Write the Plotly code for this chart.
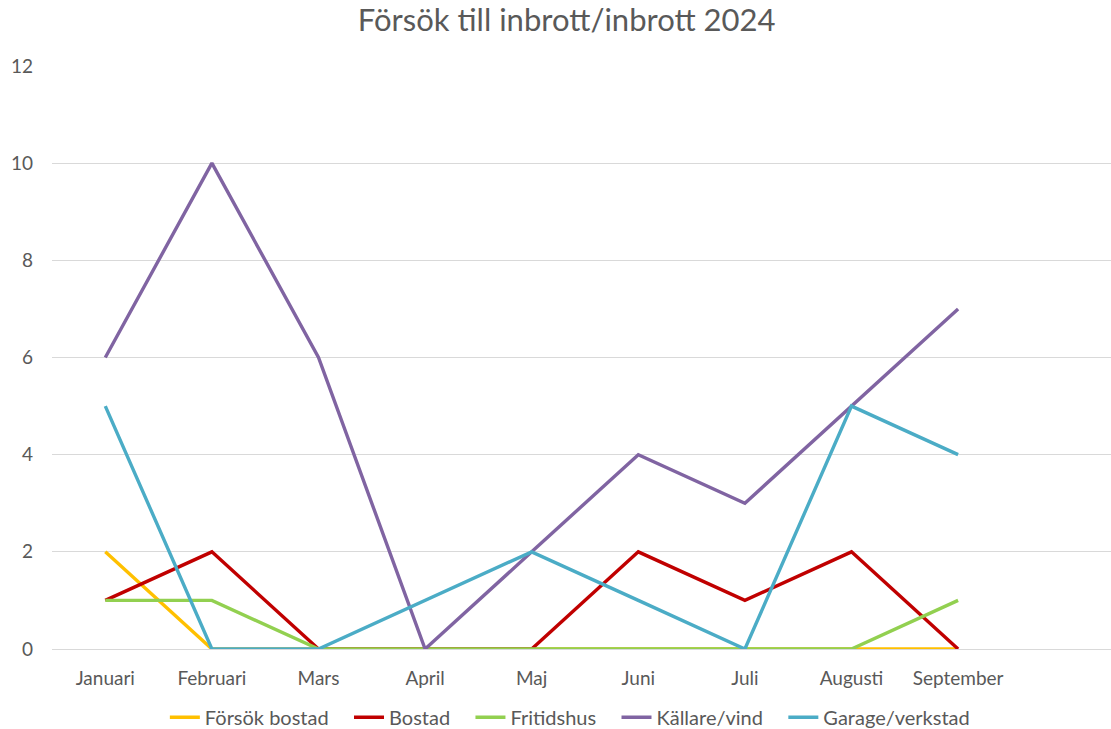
import plotly.graph_objects as go

months = ["Januari", "Februari", "Mars", "April", "Maj", "Juni", "Juli", "Augusti", "September"]
forsok_bostad = [2, 0, 0, 0, 0, 0, 0, 0, 0]
bostad = [1, 2, 0, 0, 0, 2, 1, 2, 0]
fritidshus = [1, 1, 0, 0, 0, 0, 0, 0, 1]
kallare_vind = [6, 10, 6, 0, 2, 4, 3, 5, 7]
garage_verkstad = [5, 0, 0, 1, 2, 1, 0, 5, 4]

series = [
    ("Försök bostad", forsok_bostad, "#FFC000"),
    ("Bostad", bostad, "#C00000"),
    ("Fritidshus", fritidshus, "#92D050"),
    ("Källare/vind", kallare_vind, "#8064A2"),
    ("Garage/verkstad", garage_verkstad, "#4BACC6"),
]

x = list(range(len(months)))
fig = go.Figure()
for i, (name, vals, col) in enumerate(series):
    label = name + ("\u00a0\u00a0\u00a0" if i < len(series) - 1 else "")
    fig.add_trace(go.Scatter(x=x, y=vals, mode="lines", name=label,
                             line=dict(color=col, width=3.4)))

font = "Lato, 'Open Sans', sans-serif"
fig.update_layout(
    width=1111, height=729,
    margin=dict(l=52, r=0, t=66, b=80, autoexpand=False),
    paper_bgcolor="white", plot_bgcolor="white",
    font=dict(family=font, color="#595959", size=18),
    title=dict(text="Försök till inbrott/inbrott 2024", x=0.486, xref="paper", xanchor="center",
               y=0.972, yanchor="middle", font=dict(size=31, color="#595959", family=font)),
    legend=dict(orientation="h", x=0.489, xanchor="center", y=-0.117, yanchor="middle",
                font=dict(size=20, color="#595959"), itemwidth=30, tracegroupgap=0),
    showlegend=True,
)
fig.update_xaxes(range=[-0.5, -0.5 + 1059 / 106.6], tickvals=x, ticktext=months,
                 showgrid=False, zeroline=False, showline=False, ticks="", automargin=False,
                 ticklabelstandoff=16, tickfont=dict(size=19, color="#595959"))
fig.update_yaxes(range=[0, 12], dtick=2, tick0=0, showgrid=True, gridcolor="#D9D9D9",
                 gridwidth=1, zeroline=True, zerolinecolor="#D9D9D9", zerolinewidth=1,
                 showline=False, ticks="", ticklabelstandoff=18, automargin=False,
                 tickfont=dict(size=19, color="#595959"))

fig.write_html("out.html", config={"displayModeBar": False},
               post_script="document.body.style.margin='0';document.body.style.overflow='hidden';")
